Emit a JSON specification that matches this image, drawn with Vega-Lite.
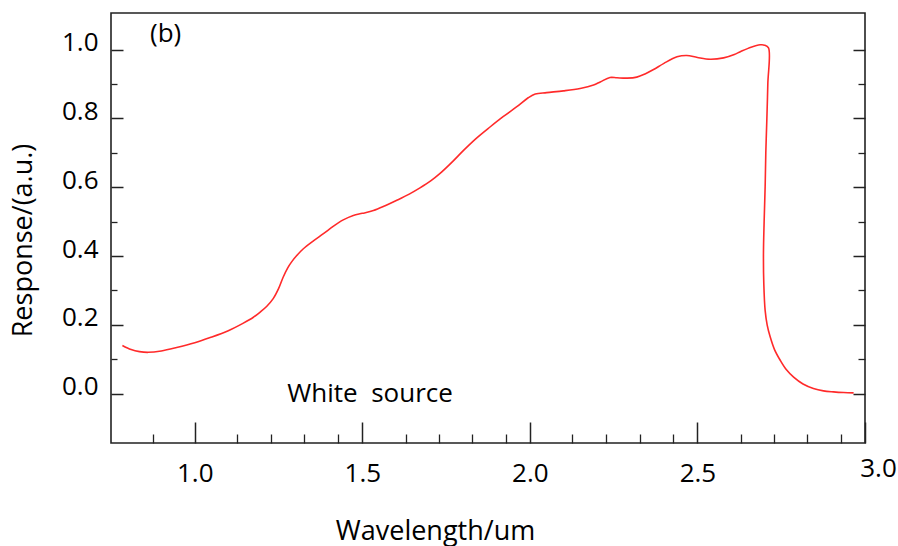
{
  "$schema": "https://vega.github.io/schema/vega-lite/v6.json",
  "width": 754,
  "height": 430,
  "autosize": {"type": "none"},
  "padding": {"left": 111, "top": 13, "right": 33, "bottom": 103},
  "background": "white",
  "config": {
    "view": {"stroke": "#222222", "strokeWidth": 1.6},
    "font": "Open Sans",
    "axis": {"grid": false, "domain": false, "tickColor": "#222222", "labelFont": "Open Sans", "titleFont": "Open Sans", "labelColor": "#000000", "titleColor": "#000000"}
  },
  "datasets": {
    "curve": [
      {"i": 1, "x": 0.784, "y": 0.140},
      {"i": 2, "x": 0.81, "y": 0.128},
      {"i": 3, "x": 0.835, "y": 0.122},
      {"i": 4, "x": 0.861, "y": 0.120},
      {"i": 5, "x": 0.90, "y": 0.124},
      {"i": 6, "x": 0.946, "y": 0.134},
      {"i": 7, "x": 1.0, "y": 0.148},
      {"i": 8, "x": 1.046, "y": 0.163},
      {"i": 9, "x": 1.1, "y": 0.183},
      {"i": 10, "x": 1.145, "y": 0.205},
      {"i": 11, "x": 1.175, "y": 0.222},
      {"i": 12, "x": 1.195, "y": 0.237},
      {"i": 13, "x": 1.215, "y": 0.254},
      {"i": 14, "x": 1.234, "y": 0.276},
      {"i": 15, "x": 1.25, "y": 0.305},
      {"i": 16, "x": 1.264, "y": 0.339},
      {"i": 17, "x": 1.277, "y": 0.365},
      {"i": 18, "x": 1.289, "y": 0.383},
      {"i": 19, "x": 1.305, "y": 0.402},
      {"i": 20, "x": 1.324, "y": 0.421},
      {"i": 21, "x": 1.354, "y": 0.444},
      {"i": 22, "x": 1.384, "y": 0.465},
      {"i": 23, "x": 1.414, "y": 0.487},
      {"i": 24, "x": 1.443, "y": 0.505},
      {"i": 25, "x": 1.473, "y": 0.518},
      {"i": 26, "x": 1.50, "y": 0.524},
      {"i": 27, "x": 1.533, "y": 0.532},
      {"i": 28, "x": 1.568, "y": 0.546},
      {"i": 29, "x": 1.603, "y": 0.562},
      {"i": 30, "x": 1.64, "y": 0.580},
      {"i": 31, "x": 1.672, "y": 0.598},
      {"i": 32, "x": 1.705, "y": 0.619},
      {"i": 33, "x": 1.732, "y": 0.640},
      {"i": 34, "x": 1.77, "y": 0.675},
      {"i": 35, "x": 1.802, "y": 0.707},
      {"i": 36, "x": 1.84, "y": 0.742},
      {"i": 37, "x": 1.881, "y": 0.775},
      {"i": 38, "x": 1.92, "y": 0.805},
      {"i": 39, "x": 1.961, "y": 0.834},
      {"i": 40, "x": 1.995, "y": 0.860},
      {"i": 41, "x": 2.016, "y": 0.871},
      {"i": 42, "x": 2.05, "y": 0.875},
      {"i": 43, "x": 2.10, "y": 0.880},
      {"i": 44, "x": 2.15, "y": 0.887},
      {"i": 45, "x": 2.19, "y": 0.897},
      {"i": 46, "x": 2.21, "y": 0.906},
      {"i": 47, "x": 2.239, "y": 0.919},
      {"i": 48, "x": 2.26, "y": 0.918},
      {"i": 49, "x": 2.29, "y": 0.917},
      {"i": 50, "x": 2.319, "y": 0.920},
      {"i": 51, "x": 2.345, "y": 0.930},
      {"i": 52, "x": 2.369, "y": 0.942},
      {"i": 53, "x": 2.40, "y": 0.960},
      {"i": 54, "x": 2.439, "y": 0.979},
      {"i": 55, "x": 2.468, "y": 0.983},
      {"i": 56, "x": 2.50, "y": 0.977},
      {"i": 57, "x": 2.538, "y": 0.972},
      {"i": 58, "x": 2.578, "y": 0.976},
      {"i": 59, "x": 2.61, "y": 0.986},
      {"i": 60, "x": 2.628, "y": 0.994},
      {"i": 61, "x": 2.66, "y": 1.007},
      {"i": 62, "x": 2.687, "y": 1.014},
      {"i": 63, "x": 2.70, "y": 1.013},
      {"i": 64, "x": 2.712, "y": 1.005},
      {"i": 65, "x": 2.710, "y": 0.90},
      {"i": 66, "x": 2.707, "y": 0.794},
      {"i": 67, "x": 2.704, "y": 0.70},
      {"i": 68, "x": 2.702, "y": 0.601},
      {"i": 69, "x": 2.699, "y": 0.50},
      {"i": 70, "x": 2.697, "y": 0.407},
      {"i": 71, "x": 2.698, "y": 0.32},
      {"i": 72, "x": 2.702, "y": 0.242},
      {"i": 73, "x": 2.708, "y": 0.200},
      {"i": 74, "x": 2.717, "y": 0.165},
      {"i": 75, "x": 2.73, "y": 0.128},
      {"i": 76, "x": 2.747, "y": 0.097},
      {"i": 77, "x": 2.765, "y": 0.070},
      {"i": 78, "x": 2.787, "y": 0.048},
      {"i": 79, "x": 2.815, "y": 0.028},
      {"i": 80, "x": 2.846, "y": 0.015},
      {"i": 81, "x": 2.876, "y": 0.008},
      {"i": 82, "x": 2.906, "y": 0.005},
      {"i": 83, "x": 2.936, "y": 0.003},
      {"i": 84, "x": 2.966, "y": 0.002}
    ],
    "notes": [
      {"x": 0.913, "y": 1.022, "label": "(b)"},
      {"x": 1.523, "y": -0.024, "label": "White \u00a0source"}
    ]
  },
  "data": {"name": "curve"},
  "layer": [
    {
      "mark": {"type": "line", "color": "#ff2a2a", "strokeWidth": 1.6, "interpolate": "catmull-rom"},
      "encoding": {
        "x": {
          "field": "x", "type": "quantitative",
          "scale": {"domain": [0.75, 3.0], "nice": false, "zero": false},
          "axis": {
            "orient": "bottom", "values": [1, 1.5, 2, 2.5, 3], "format": ".1f",
            "tickSize": -21, "tickWidth": 1.5,
            "labelFontSize": 26, "labelBaseline": "alphabetic",
            "labelPadding": {"condition": {"test": "datum.value == 3", "value": 54}, "value": 59},
            "labelOffset": {"condition": {"test": "datum.value == 3", "value": 13}, "value": 0},
            "labelFlush": false, "labelOverlap": false, "labelBound": false,
            "title": "Wavelength/um", "titleFontSize": 27, "titleFontWeight": "normal",
            "titleX": 324, "titleY": 96, "titleBaseline": "alphabetic", "titleAlign": "center"
          }
        },
        "y": {
          "field": "y", "type": "quantitative",
          "scale": {"domain": [-0.1436, 1.1064], "nice": false, "zero": false},
          "axis": {
            "orient": "left", "values": [0, 0.2, 0.4, 0.6, 0.8, 1.0], "format": ".1f",
            "tickSize": -12, "tickWidth": 1.5,
            "labelFontSize": 26, "labelBaseline": "alphabetic", "labelPadding": 25, "labelOffset": 1,
            "labelFlush": false, "labelOverlap": false, "labelBound": false,
            "title": "Response/(a.u.)", "titleFontSize": 27, "titleFontWeight": "normal",
            "titleAngle": -90, "titleX": -80, "titleY": 227, "titleBaseline": "alphabetic", "titleAlign": "center"
          }
        },
        "order": {"field": "i", "type": "quantitative"}
      }
    },
    {
      "mark": {"type": "point", "opacity": 0},
      "encoding": {
        "x": {
          "field": "x", "type": "quantitative",
          "scale": {"domain": [0.75, 3.0], "nice": false, "zero": false},
          "axis": {
            "orient": "bottom",
            "values": [0.874, 1.127, 1.227, 1.327, 1.428, 1.629, 1.729, 1.828, 1.928, 2.127, 2.227, 2.328, 2.427, 2.629, 2.728, 2.827, 2.928],
            "tickSize": -9, "tickWidth": 1.3, "labels": false, "title": null
          }
        },
        "y": {
          "field": "y", "type": "quantitative",
          "scale": {"domain": [-0.1436, 1.1064], "nice": false, "zero": false},
          "axis": {"orient": "left", "values": [0.1, 0.3, 0.5, 0.7, 0.9], "tickSize": -6, "tickWidth": 1.3, "labels": false, "title": null}
        }
      }
    },
    {
      "mark": {"type": "point", "opacity": 0},
      "encoding": {
        "x": {"field": "x", "type": "quantitative", "scale": {"domain": [0.75, 3.0], "nice": false, "zero": false}, "axis": null},
        "y": {
          "field": "y", "type": "quantitative",
          "scale": {"domain": [-0.1436, 1.1064], "nice": false, "zero": false},
          "axis": {"orient": "right", "values": [0, 0.2, 0.4, 0.6, 0.8, 1.0], "tickSize": -12, "tickWidth": 1.5, "labels": false, "title": null}
        }
      }
    },
    {
      "mark": {"type": "point", "opacity": 0},
      "encoding": {
        "x": {"field": "x", "type": "quantitative", "scale": {"domain": [0.75, 3.0], "nice": false, "zero": false}, "axis": null},
        "y": {
          "field": "y", "type": "quantitative",
          "scale": {"domain": [-0.1436, 1.1064], "nice": false, "zero": false},
          "axis": {"orient": "right", "values": [0.1, 0.3, 0.5, 0.7, 0.9], "tickSize": -7, "tickWidth": 1.3, "labels": false, "title": null}
        }
      }
    },
    {
      "data": {"name": "notes"},
      "mark": {"type": "text", "font": "Open Sans", "fontSize": 26, "color": "#000000", "align": "center", "baseline": "alphabetic"},
      "encoding": {
        "x": {"field": "x", "type": "quantitative", "scale": {"domain": [0.75, 3.0], "nice": false, "zero": false}, "axis": null},
        "y": {"field": "y", "type": "quantitative", "scale": {"domain": [-0.1436, 1.1064], "nice": false, "zero": false}, "axis": null},
        "text": {"field": "label", "type": "nominal"}
      }
    }
  ],
  "resolve": {"axis": {"x": "independent", "y": "independent"}}
}
